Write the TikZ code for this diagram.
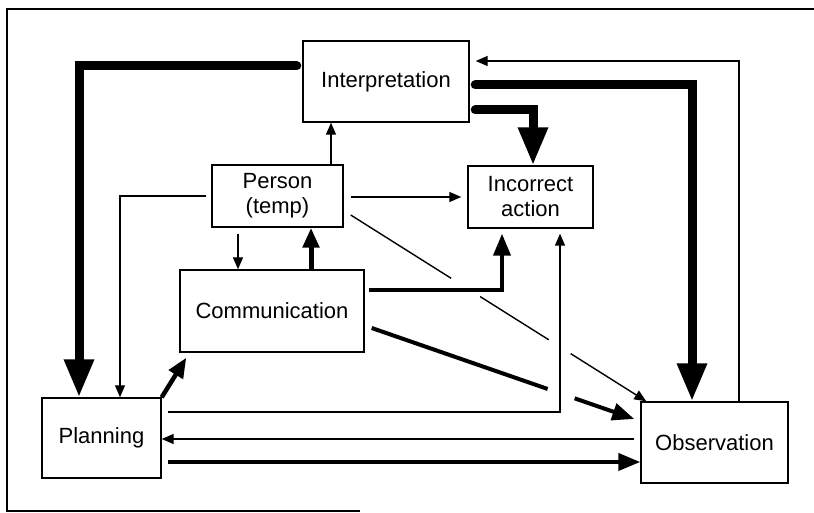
\documentclass[tikz,border=0pt]{standalone}
\usepackage{fontspec}
\setmainfont{Liberation Sans}
\usetikzlibrary{arrows.meta,calc}

\tikzset{
  box/.style={draw, line width=1.4pt, fill=white, align=center,
    font=\fontsize{22}{25}\selectfont, inner sep=0pt},
  thin/.style={line width=1.4pt, -{Triangle[length=12pt,width=10pt]}},
  thinline/.style={line width=1.4pt},
  medium/.style={line width=4pt, -{Triangle[length=22pt,width=17pt]}},
  mediumline/.style={line width=4pt},
  heavy/.style={line width=9pt, line cap=round, -{Triangle[length=38pt,width=28pt]}},
}

\begin{document}
\begin{tikzpicture}[x=1pt,y=1pt]
\useasboundingbox (0,0) rectangle (814,513);

% open frame round the whole chart
\draw[line width=1.8pt] (814,504) -- (7,504) -- (7,2) -- (360,2);

% boxes
\node[box, minimum width=166pt, minimum height=81pt] (interp) at (386,431.5) {Interpretation};
\node[box, minimum width=131pt, minimum height=62pt] (person) at (277.5,317) {Person\\(temp)};
\node[box, minimum width=125pt, minimum height=62pt] (incorrect) at (530.5,316) {Incorrect\\action};
\node[box, minimum width=184pt, minimum height=82pt] (comm) at (272,202) {Communication};
\node[box, minimum width=119pt, minimum height=80pt] (planning) at (101.5,75) {Planning};
\node[box, minimum width=147pt, minimum height=81pt] (obs) at (714.5,70.5) {Observation};

% heavy links out of Interpretation (rounded end just touching the box)
\draw[heavy] ([xshift=-5.5pt,yshift=15.5pt]interp.west) -| ([xshift=-22.5pt]planning.north);
\draw[heavy] ([xshift=5.5pt,yshift=-3.5pt]interp.east) -| ([xshift=-22.5pt]obs.north);
\draw[heavy] ([xshift=5.5pt,yshift=-28.5pt]interp.east) -| ([xshift=2.5pt]incorrect.north);

% Observation back to Interpretation
\draw[thin] ([xshift=24.5pt]obs.north) |- ([xshift=6pt,yshift=20.5pt]interp.east);

% links out of Person
\draw[thin] ([xshift=53.5pt]person.north) -- ([xshift=53.5pt]person.north |- interp.south);
\draw[thin] ([xshift=7pt]person.east |- incorrect.west) -- ([xshift=-6pt]incorrect.west);
\draw[thin] ([xshift=-5pt]person.west) -| ([xshift=18.5pt]planning.north);
\draw[thin] ([xshift=-39.5pt,yshift=-6pt]person.south) -- ([xshift=-39.5pt]person.south |- comm.north);

% Person to Observation, broken where it passes other lines
\coordinate (pa) at ([xshift=7pt,yshift=-19pt]person.east);
\coordinate (pb) at ([xshift=6pt]obs.north west);
\draw[thinline] (pa) -- ($(pa)!0.34!(pb)$);
\draw[thinline] ($(pa)!0.438!(pb)$) -- ($(pa)!0.67!(pb)$);
\draw[thin] ($(pa)!0.744!(pb)$) -- (pb);

% links out of Communication
\draw[line width=5pt, -{Triangle[length=20pt,width=16pt]}]
  ([xshift=39pt]comm.north) -- ([xshift=39pt]comm.north |- person.south);
\draw[medium] ([xshift=4pt,yshift=21pt]comm.east) -| ([xshift=-28.5pt,yshift=-5pt]incorrect.south);
\coordinate (ca) at ([xshift=7pt,yshift=-17pt]comm.east);
\coordinate (cb) at ([xshift=-6pt,yshift=23.5pt]obs.west);
\draw[mediumline] (ca) -- ($(ca)!0.67!(cb)$);
\draw[medium] ($(ca)!0.773!(cb)$) -- (cb);

% links out of Planning
\draw[line width=4.5pt, -{Triangle[length=20pt,width=16pt]}]
  (planning.north east) -- ([xshift=7pt,yshift=-5pt]comm.south west);
\draw[thin] ([xshift=6pt,yshift=26pt]planning.east) -| ([xshift=29.5pt,yshift=-5pt]incorrect.south);
\draw[medium] ([xshift=6pt,yshift=-24pt]planning.east) coordinate (p2o) -- (obs.west |- p2o);

% Observation back to Planning
\draw[thin] ([xshift=-6pt,yshift=3.5pt]obs.west) coordinate (o2p) -- (planning.east |- o2p);
\end{tikzpicture}
\end{document}
